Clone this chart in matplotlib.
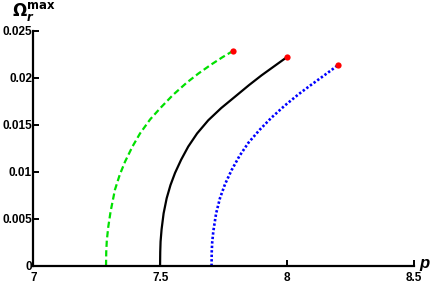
import matplotlib
matplotlib.use("Agg")
import matplotlib.pyplot as plt

# Green dashed curve
green_x = [7.286, 7.2868, 7.289, 7.295, 7.304, 7.321, 7.340, 7.361, 7.390, 7.420, 7.46, 7.50, 7.55, 7.604, 7.65, 7.70, 7.745, 7.788]
green_y = [0.0, 0.0015, 0.0027, 0.0042, 0.0058, 0.0081, 0.0097, 0.0111, 0.0127, 0.0141, 0.0156, 0.0168, 0.0182, 0.0195, 0.02047, 0.02142, 0.02221, 0.0229]
# Black solid curve
black_x = [7.499, 7.4997, 7.501, 7.505, 7.513, 7.525, 7.540, 7.558, 7.582, 7.610, 7.645, 7.689, 7.74, 7.794, 7.85, 7.899, 7.95, 7.998]
black_y = [0.0, 0.0015, 0.0026, 0.0039, 0.0056, 0.0072, 0.0086, 0.0099, 0.0113, 0.0127, 0.0141, 0.0155, 0.0168, 0.0180, 0.01925, 0.02028, 0.02127, 0.0222]
# Blue dotted curve
blue_x = [7.702, 7.7027, 7.7045, 7.709, 7.720, 7.735, 7.755, 7.781, 7.812, 7.847, 7.892, 7.939, 7.99, 8.044, 8.09, 8.136, 8.17, 8.202]
blue_y = [0.0, 0.0015, 0.0025, 0.0037, 0.0056, 0.0072, 0.0087, 0.0102, 0.0117, 0.0131, 0.0145, 0.0158, 0.01705, 0.01825, 0.01918, 0.02008, 0.02075, 0.0214]

xticks = [7, 7.5, 8, 8.5]
xticklabels = ["7", "7.5", "8", "8.5"]
yticks = [0, 0.005, 0.01, 0.015, 0.02, 0.025]
yticklabels = ["0", "0.005", "0.01", "0.015", "0.02", "0.025"]

fig = plt.figure(figsize=(4.36, 2.84), dpi=100)
ax = fig.add_axes([0.0768, 0.0634, 0.8727, 0.8275])

ax.plot(green_x, green_y, color="#00e000", lw=1.6, dashes=(2.8, 1.5), solid_capstyle="butt")
ax.plot(black_x, black_y, color="black", lw=1.6)
ax.plot(blue_x, blue_y, color="#0000ff", lw=1.9, dashes=(0.9, 0.8))

ax.plot([green_x[-1], black_x[-1], blue_x[-1]], [green_y[-1], black_y[-1], blue_y[-1]],
        "o", color="red", ms=4.5, mec="none", zorder=5)

ax.set_xlim(7, 8.5)
ax.set_ylim(0, 0.025)
ax.set_xticks(xticks)
ax.set_xticklabels(xticklabels, fontweight="bold", fontsize=8.5, family="Liberation Sans")
ax.set_yticks(yticks)
ax.set_yticklabels(yticklabels, fontweight="bold", fontsize=8.5, family="Liberation Sans")
for s in ["top", "right"]:
    ax.spines[s].set_visible(False)
for s in ["left", "bottom"]:
    ax.spines[s].set_linewidth(1.6)
ax.tick_params(direction="in", length=4, width=1.4)
ax.tick_params(axis="x", pad=4)
ax.tick_params(axis="y", pad=1)

fig.text(0.974, 0.072, "p", fontsize=12, fontweight="bold", style="italic",
         family="Liberation Sans", ha="center", va="center")
fig.text(0.078, 0.958, r"$\mathbf{\Omega}_{\boldsymbol{r}}^{\mathbf{max}}$", fontsize=12,
         ha="center", va="center")

fig.savefig("out.png", dpi=100)
